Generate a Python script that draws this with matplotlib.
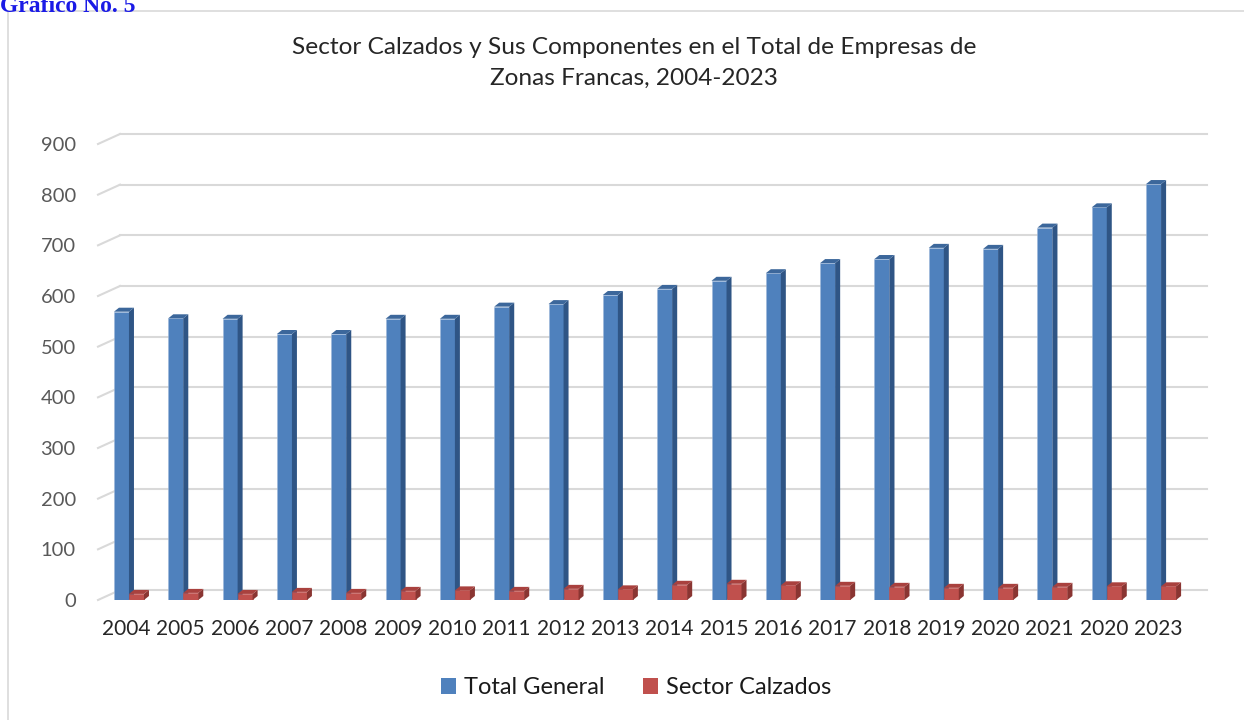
import matplotlib.pyplot as plt
import numpy as np
from matplotlib.patches import Patch, Rectangle, Polygon

plt.rcParams['font.family'] = ['Lato', 'DejaVu Sans']

# datos
years = ['2004', '2005', '2006', '2007', '2008', '2009', '2010', '2011', '2012', '2013',
         '2014', '2015', '2016', '2017', '2018', '2019', '2020', '2021', '2020', '2023']
total_general = [569, 556, 555, 525, 525, 555, 555, 579, 584, 602,
                 614, 630, 645, 665, 673, 695, 693, 735, 775, 821]
sector_calzados = [12, 14, 12, 16, 14, 18, 19, 18, 22, 21,
                   30, 32, 29, 28, 26, 24, 24, 26, 27, 27]
y_ticks = [0, 100, 200, 300, 400, 500, 600, 700, 800, 900]

W, H = 1244, 720
fig = plt.figure(figsize=(W / 100, H / 100), dpi=100)

# marco del grafico
fig.patches.append(Rectangle((8 / W, -0.05), 1.1, 1 - 11 / H + 0.05, transform=fig.transFigure,
                             fill=False, edgecolor='#D9D9D9', lw=1.2))
fig.text(0, 1 - 12 / H, 'Gráfico No. 5', family='Liberation Serif', fontweight='bold',
         fontsize=17, color='#1A1AE6', ha='left', va='baseline')

ax_l, ax_r, ax_b, ax_t = 98, 1185, 600, 144
ax = fig.add_axes([ax_l / W, 1 - ax_b / H, (ax_r - ax_l) / W, (ax_b - ax_t) / H])
xmin, xmax = -0.57, 19.44
ax.set_xlim(xmin, xmax)
ax.set_ylim(0, 900)
for s in ax.spines.values():
    s.set_visible(False)

# unidades por pixel
px_x = (ax_r - ax_l) / (xmax - xmin)
px_y = (ax_b - ax_t) / 900.0

# pared del fondo: lineas de cuadricula desplazadas
wall_dx, wall_dy = 22, 10
tr = ax.get_yaxis_transform()
for v in y_ticks:
    ax.plot([0, wall_dx / (ax_r - ax_l)], [v, v + wall_dy / px_y], transform=tr,
            color='#D9D9D9', lw=1.5, clip_on=False, zorder=0)
    ax.plot([wall_dx / (ax_r - ax_l), 1 + wall_dx / (ax_r - ax_l)],
            [v + wall_dy / px_y] * 2, transform=tr,
            color='#D9D9D9', lw=1.5, clip_on=False, zorder=0)

# barras con efecto 3D
bw = 15 / px_x
ddx = 5 / px_x
ddy = 4 / px_y
x = np.arange(len(years))


def bar3d(xs, vals, front, side, top, z):
    ax.bar(xs, vals, width=bw, align='edge', color=front, edgecolor='#9DB7DA' if front == '#4F81BD' else front,
           lw=0.4, zorder=z)
    for xi, v in zip(xs, vals):
        ax.add_patch(Polygon([(xi + bw, 0), (xi + bw + ddx, ddy), (xi + bw + ddx, v + ddy), (xi + bw, v)],
                             closed=True, facecolor=side, edgecolor='none', zorder=z))
        ax.add_patch(Polygon([(xi, v), (xi + ddx, v + ddy), (xi + bw + ddx, v + ddy), (xi + bw, v)],
                             closed=True, facecolor=top, edgecolor='none', zorder=z))


bar3d(x - bw, total_general, '#4F81BD', '#2F5585', '#3C679B', 2)
bar3d(x, sector_calzados, '#C0504D', '#8A3532', '#A9413E', 3)

ax.set_yticks(y_ticks)
ax.set_yticklabels([str(v) for v in y_ticks])
ax.set_xticks(x - 0.05)
ax.set_xticklabels(years)
ax.tick_params(axis='y', length=0, pad=16, labelsize=14.5, labelcolor='#595959')
ax.tick_params(axis='x', length=0, pad=14, labelsize=15, labelcolor='#262626')

fig.text(634 / W, 1 - 63 / H,
         'Sector Calzados y Sus Componentes en el Total de Empresas de\nZonas Francas, 2004-2023',
         ha='center', va='center', fontsize=17.6, color='#262626', linespacing=1.55)

handles = [Patch(facecolor='#4F81BD', label='Total General'),
           Patch(facecolor='#C0504D', label='Sector Calzados')]
fig.legend(handles=handles, loc='center', bbox_to_anchor=(636 / W, 1 - 688 / H), ncol=2,
           frameon=False, fontsize=17, handlelength=0.65, handleheight=0.65,
           handletextpad=0.35, columnspacing=1.6, labelcolor='#1A1A1A')

fig.savefig('out.png', dpi=100)
